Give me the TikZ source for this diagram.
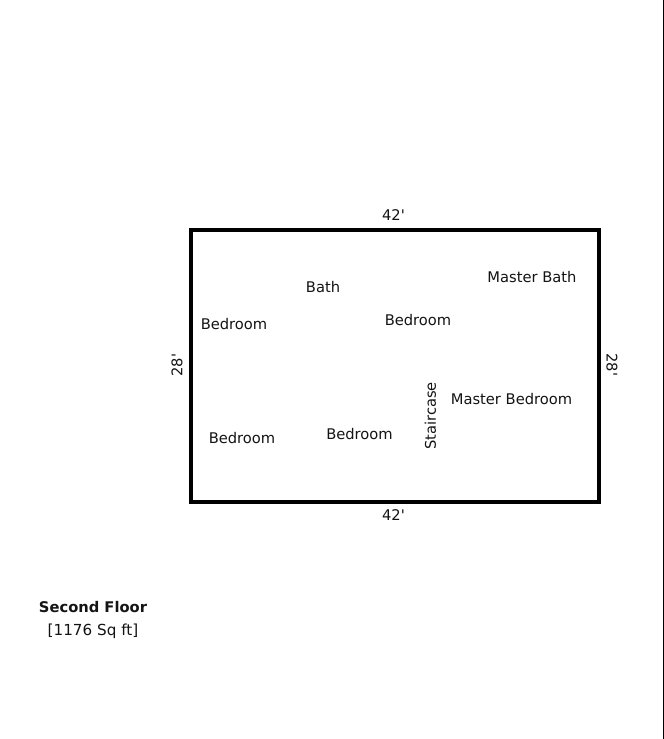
\documentclass[tikz,border=0pt]{standalone}
\usepackage{fontspec}
\setmainfont{DejaVu Sans}
\newfontfamily\plainfont{DejaVu Sans}
\tikzset{room/.style={font=\fontsize{14.7pt}{17pt}\selectfont,text=black!92,inner sep=0pt}}
\begin{document}
\begin{tikzpicture}[x=1pt,y=-1pt,every node/.style={room}]
\useasboundingbox (0,0) rectangle (664,739);
\fill[white] (0,0) rectangle (664,739);
\fill[black] (663,0) rectangle (664,739);
\node[draw=black,line width=4pt,outer sep=0pt,minimum width=407.4pt,minimum height=271.4pt,anchor=north west] (plan) at (191.3,230.3) {};
\node (top) at (393.5,215) {\plainfont 42'};
\node (bot) at (393.5,515) {\plainfont 42'};
\node[rotate=90] (left) at (177,365) {\plainfont 28'};
\node[rotate=-90] (right) at (612,365) {\plainfont 28'};
\node (bath) at (323,287) {Bath};
\node (mbath) at (532,277) {Master Bath};
\node (bed1) at (234,324) {Bedroom};
\node (bed2) at (418,320) {Bedroom};
\node (bed3) at (242,438) {Bedroom};
\node (bed4) at (359.5,434) {Bedroom};
\node (mbed) at (511.5,399) {Master Bedroom};
\node[rotate=90] (stair) at (430.5,416) {Staircase};
\node[font=\fontsize{14.7pt}{17pt}\selectfont\bfseries] (floor) at (93,607) {Second Floor};
\node[font=\fontsize{15.2pt}{17pt}\selectfont] (sq) at (93,631) {[1176 Sq ft]};
\end{tikzpicture}
\end{document}
